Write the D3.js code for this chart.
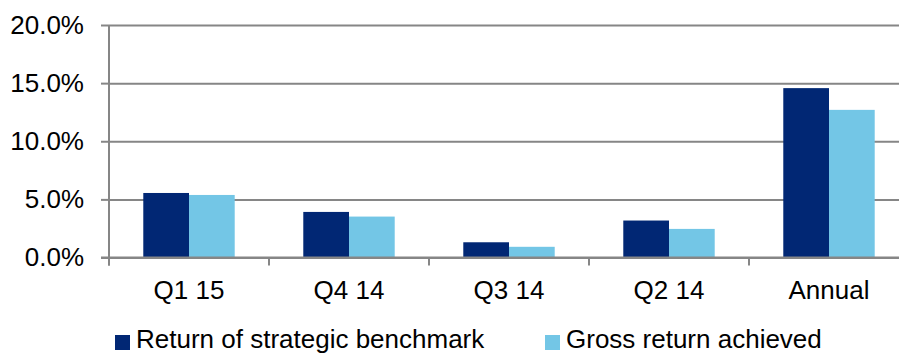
<!DOCTYPE html>
<html>
<head>
<meta charset="utf-8">
<script src="https://cdn.jsdelivr.net/npm/d3@7"></script>
<style>
  body { margin: 0; background: #fff; }
  svg { display: block; font-family: "Liberation Sans", Arial, sans-serif; }
</style>
</head>
<body>
<svg id="chart" width="899" height="354"></svg>
<script>
const categories = ["Q1 15", "Q4 14", "Q3 14", "Q2 14", "Annual"];
const seriesNames = ["Return of strategic benchmark", "Gross return achieved"];
const benchmark = [5.55, 3.92, 1.31, 3.18, 14.57];
const gross = [5.38, 3.52, 0.92, 2.46, 12.70];
const yTicks = [0, 5, 10, 15, 20];
const colors = ["#012774", "#73C6E6"];

(function () {
const svg = d3.select("#chart");
const mLeft = 109, mRight = 909, mTop = 25, mBottom = 257.5;

const x0 = d3.scaleBand().domain(categories).range([mLeft, mRight]).padding(0);
const bw = x0.bandwidth();
const x1 = d3.scaleBand().domain([0, 1]).range([bw * 0.2143, bw * 0.7857]).padding(0);
const y = d3.scaleLinear().domain([0, 20]).range([mBottom, mTop]);

const gridColor = "#868686";

// gridlines with left ticks
const yAxis = d3.axisLeft(y).tickValues(yTicks).tickSize(8).tickPadding(17)
  .tickFormat(d => d.toFixed(1) + "%");
const gy = svg.append("g").attr("transform", `translate(${mLeft},0)`).call(yAxis);
gy.select(".domain").remove();
gy.selectAll(".tick line").attr("stroke", gridColor).attr("stroke-width", 2);
gy.selectAll(".tick").append("line")
  .attr("x1", 0).attr("x2", mRight - mLeft)
  .attr("stroke", gridColor).attr("stroke-width", 2);
gy.selectAll(".tick text").attr("font-size", 26).attr("fill", "#000")
  .attr("font-family", '"Liberation Sans", Arial, sans-serif');

// bars
const data = categories.map((c, i) => ({ c, vals: [benchmark[i], gross[i]] }));
const groups = svg.append("g").selectAll("g").data(data).join("g")
  .attr("transform", d => `translate(${x0(d.c)},0)`);
groups.selectAll("rect").data(d => d.vals.map((v, k) => ({ v, k }))).join("rect")
  .attr("x", d => x1(d.k))
  .attr("width", x1.bandwidth())
  .attr("y", d => y(d.v))
  .attr("height", d => y(0) - y(d.v))
  .attr("fill", d => colors[d.k]);

// x axis
const xAxis = d3.axisBottom(x0).tickSize(0).tickPadding(23);
const gx = svg.append("g").attr("transform", `translate(0,${mBottom})`).call(xAxis);
gx.select(".domain").remove();
gx.selectAll(".tick text").attr("font-size", 26).attr("fill", "#000")
  .attr("font-family", '"Liberation Sans", Arial, sans-serif');
// category boundary ticks
const bounds = categories.map(c => x0(c)).concat([mRight]);
svg.append("g").selectAll("line").data(bounds).join("line")
  .attr("x1", d => d).attr("x2", d => d)
  .attr("y1", mBottom).attr("y2", mBottom + 8)
  .attr("stroke", gridColor).attr("stroke-width", 2);
// baseline
svg.append("line").attr("x1", mLeft - 8).attr("x2", mRight).attr("y1", mBottom).attr("y2", mBottom)
  .attr("stroke", gridColor).attr("stroke-width", 2);
// y axis line
svg.append("line").attr("x1", mLeft).attr("x2", mLeft).attr("y1", mTop).attr("y2", mBottom + 8)
  .attr("stroke", gridColor).attr("stroke-width", 2);

// legend
const legendX = [115, 545];
const lg = svg.append("g").selectAll("g").data(seriesNames).join("g")
  .attr("transform", (d, i) => `translate(${legendX[i]},335)`);
lg.append("rect").attr("width", 15).attr("height", 15).attr("fill", (d, i) => colors[i]);
lg.append("text").attr("x", 21).attr("y", 13).attr("font-size", 26).attr("fill", "#000")
  .text(d => d);
})();
</script>
</body>
</html>
